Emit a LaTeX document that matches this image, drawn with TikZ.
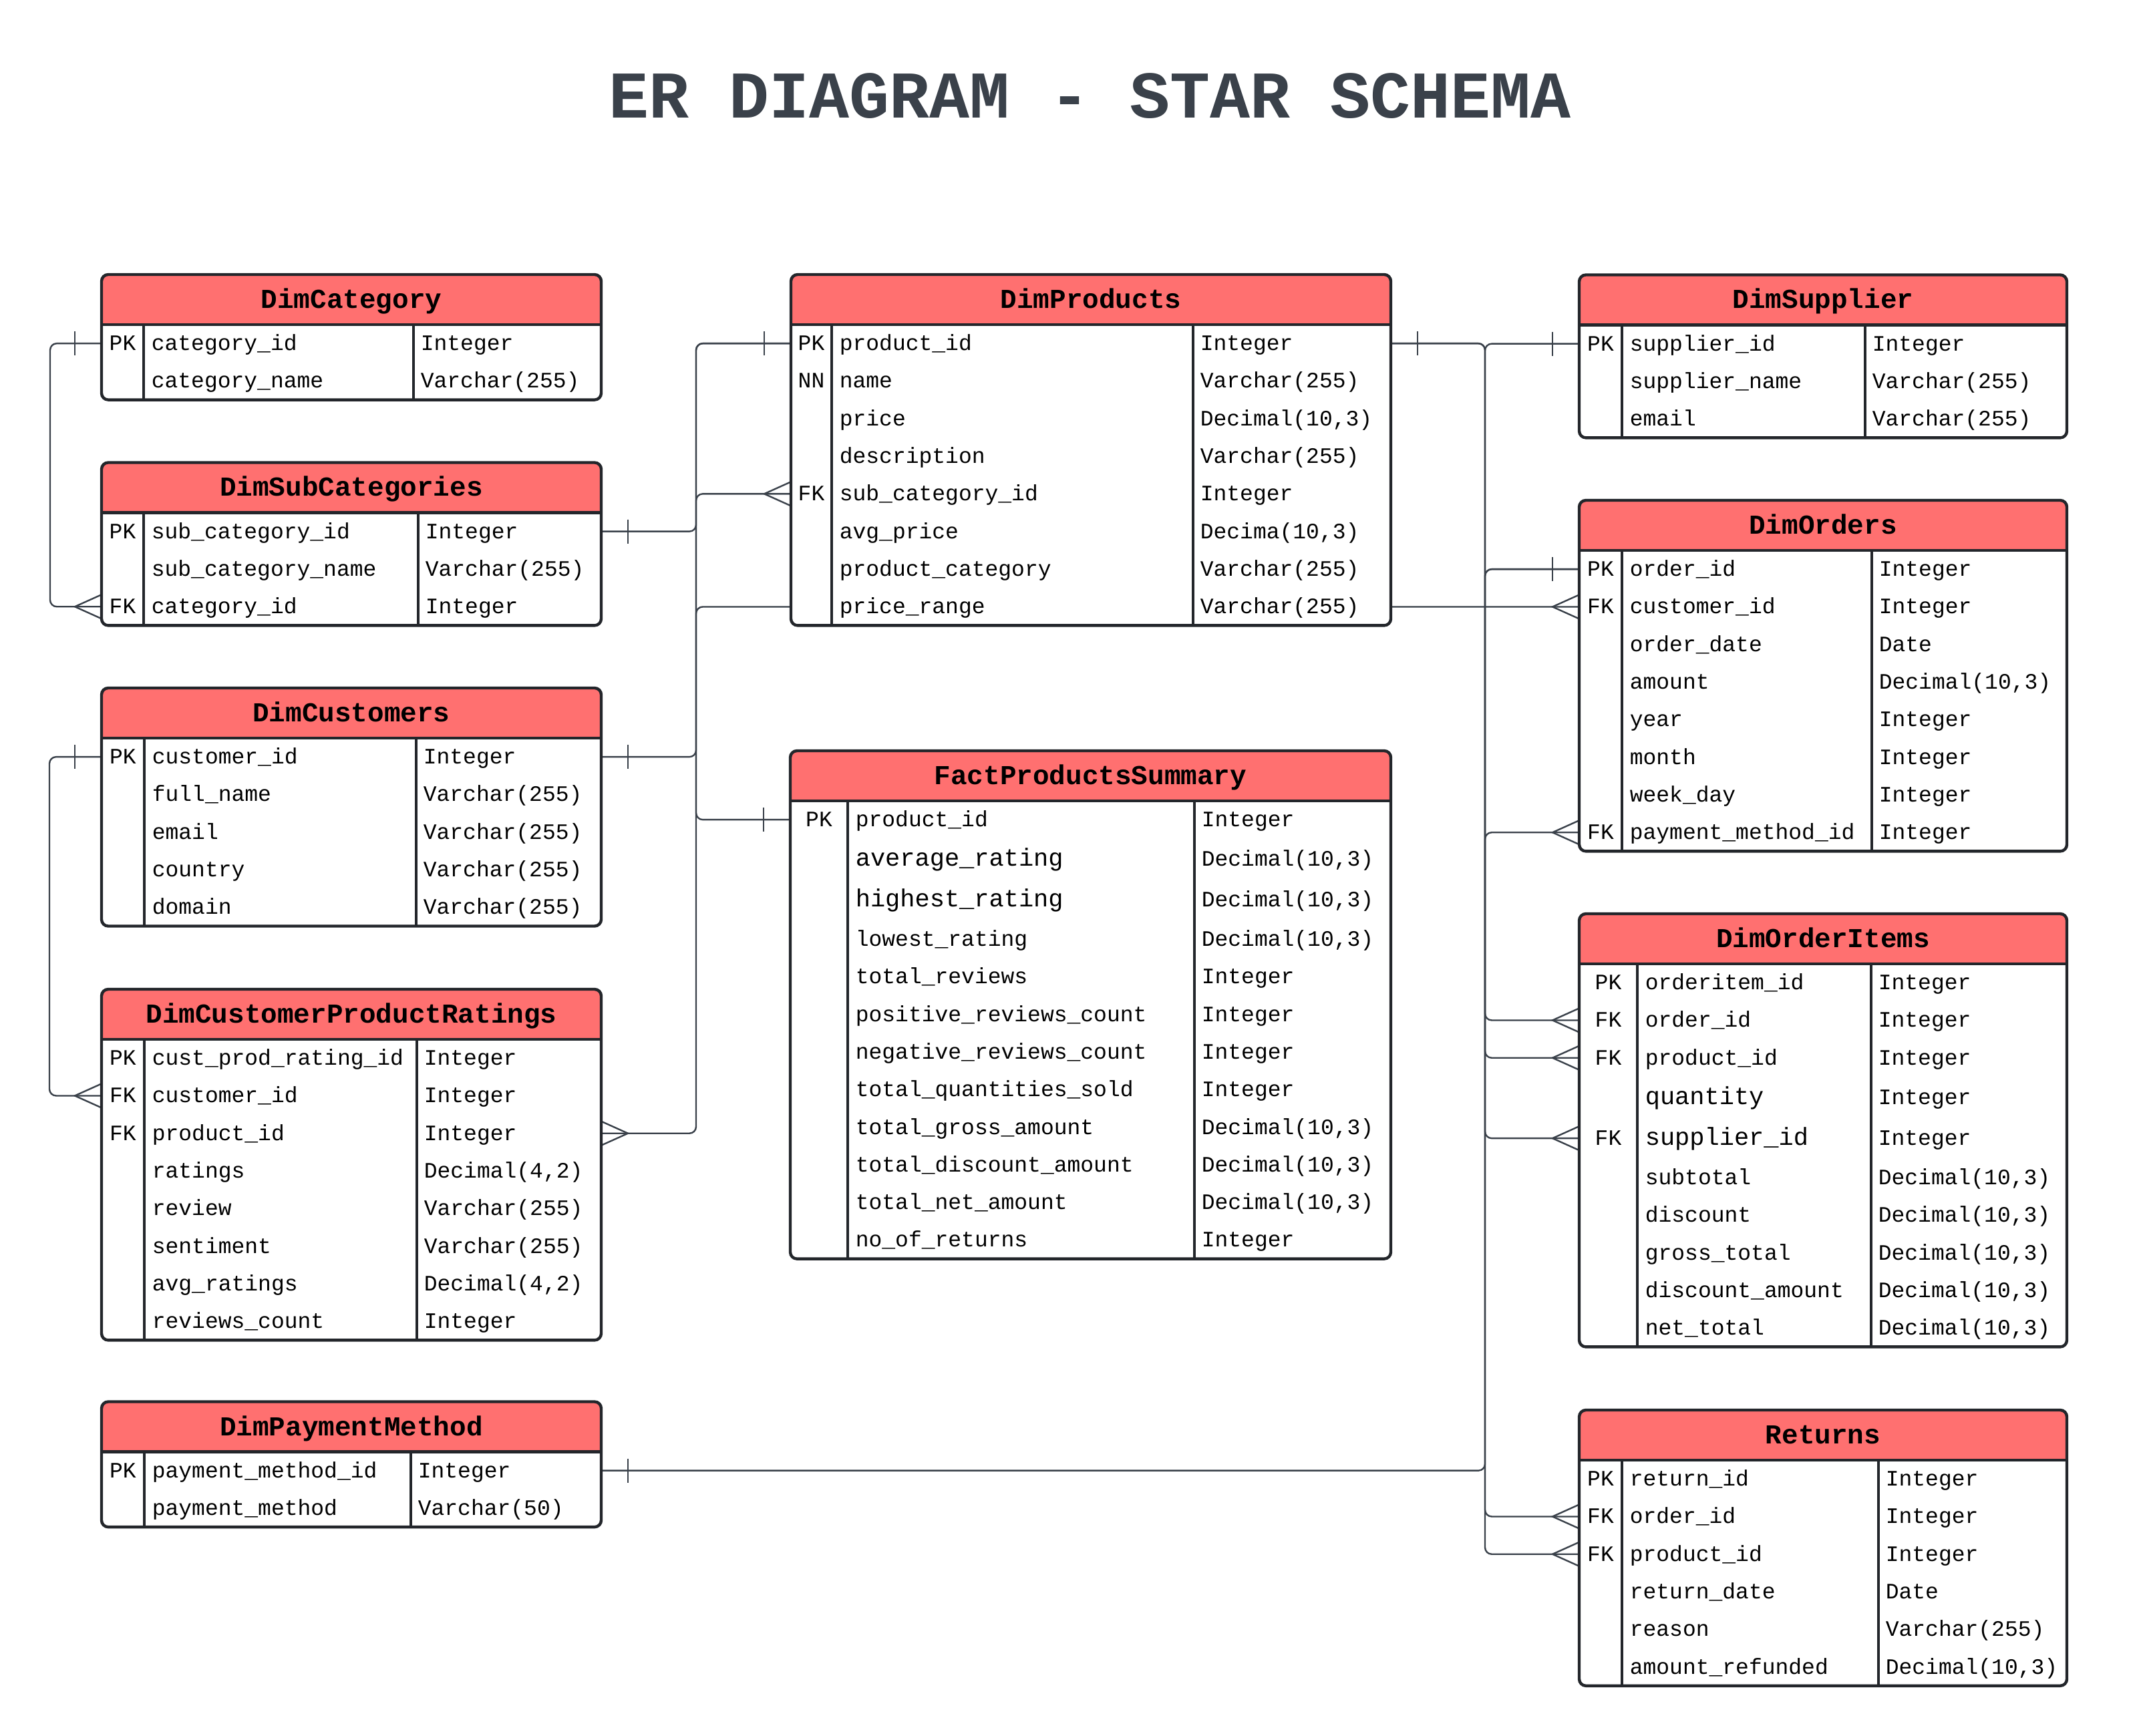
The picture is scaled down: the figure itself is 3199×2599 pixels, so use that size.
\documentclass[tikz,border=0pt]{standalone}
\usepackage{fontspec}
\setmonofont{Liberation Mono}
\newfontfamily\ermono{Liberation Mono}
\usetikzlibrary{calc,backgrounds}

\definecolor{hdrfill}{RGB}{255,112,112}
\definecolor{ink}{RGB}{58,65,74}
\definecolor{frame}{RGB}{35,38,43}

\newcommand\rowsize{\ermono\fontsize{8.25pt}{10pt}\selectfont}
\newcommand\bigfield{\fontsize{9.25pt}{11pt}\selectfont}
\newcommand\headsize{\ermono\bfseries\fontsize{10.25pt}{12pt}\selectfont}
\newcommand\titlesize{\ermono\bfseries\fontsize{25pt}{30pt}\selectfont}

\tikzset{
  conn/.style={draw=ink, line width=0.6pt, rounded corners=2.5pt},
  ermark/.style={draw=ink, line width=0.6pt},
  tblborder/.style={draw=frame, line width=1.1pt, rounded corners=2.5pt},
  divline/.style={draw=frame, line width=0.9pt},
  hdrline/.style={draw=frame, line width=1.1pt},
  celltext/.style={inner sep=0pt, font=\rowsize, text=black},
  headtext/.style={inner sep=0pt, font=\headsize, text=black, anchor=base},
}

% relationship end markers, 40 units away from the table edge
\newcommand\barW[1]{\draw[ermark, shift={(#1)}] (-40,-18) -- (-40,18);}
\newcommand\barE[1]{\draw[ermark, shift={(#1)}] (40,-18) -- (40,18);}
\newcommand\crowW[1]{\draw[ermark, shift={(#1)}] (0,-18) -- (-40,0) -- (0,18);}
\newcommand\crowE[1]{\draw[ermark, shift={(#1)}] (0,-18) -- (40,0) -- (0,18);}

% #1 id, #2 title, #3 left, #4 first divider, #5 second divider, #6 right,
% #7 top, #8 bottom, #9 rows key/name/type/row-centre
\newcommand\ertable[9]{%
  \fill[white, rounded corners=2.5pt] (#3,#7) rectangle (#6,#8);
  \fill[hdrfill, rounded corners=2.5pt] (#3,#7) rectangle (#6,#7+75);
  \fill[hdrfill] (#3,#7+30) rectangle (#6,#7+75);
  \draw[divline] (#4,#7+75) -- (#4,#8);
  \draw[divline] (#5,#7+75) -- (#5,#8);
  \draw[hdrline] (#3,#7+75) -- (#6,#7+75);
  \draw[tblborder] (#3,#7) rectangle (#6,#8);
  \node[headtext] (#1-head) at ({(#3+#6)/2},#7+50.5) {#2};
  \foreach \k/\n/\t/\yc [count=\i] in {#9} {
    \coordinate (#1-\i-w) at (#3,\yc);
    \coordinate (#1-\i-e) at (#6,\yc);
    \node[celltext, anchor=base] (#1-\i-key) at ({(#3+#4)/2},\yc+10.5) {\k};
    \node[celltext, anchor=base west] (#1-\i-name) at (#4+11,\yc+10.5) {\n};
    \node[celltext, anchor=base west] (#1-\i-type) at (#5+10,\yc+10.5) {\t};
  }
}

\begin{document}
\begin{tikzpicture}[x=0.25pt, y=-0.25pt]
\useasboundingbox (0,0) rectangle (3199,2599);

\node[inner sep=0pt, font=\titlesize, text=ink, anchor=base] (title) at (1632,177)
  {ER DIAGRAM - STAR SCHEMA};

% ---------------- tables ----------------
\ertable{cat}{DimCategory}{152}{215}{619}{900}{411}{598.6}{
  PK/category\_id/Integer/514.15,
  /category\_name/{Varchar(255)}/570.45}

\ertable{sub}{DimSubCategories}{152}{215}{626}{900}{692.5}{936.4}{
  PK/sub\_category\_id/Integer/795.65,
  /sub\_category\_name/{Varchar(255)}/851.95,
  FK/category\_id/Integer/908.25}

\ertable{cust}{DimCustomers}{152}{216}{623}{900}{1030}{1386.5}{
  PK/customer\_id/Integer/1133.15,
  /full\_name/{Varchar(255)}/1189.45,
  /email/{Varchar(255)}/1245.75,
  /country/{Varchar(255)}/1302.05,
  /domain/{Varchar(255)}/1358.35}

\ertable{rat}{DimCustomerProductRatings}{152}{216}{624}{900}{1481}{2006.4}{
  PK/cust\_prod\_rating\_id/Integer/1584.15,
  FK/customer\_id/Integer/1640.45,
  FK/product\_id/Integer/1696.75,
  /ratings/{Decimal(4,2)}/1753.05,
  /review/{Varchar(255)}/1809.35,
  /sentiment/{Varchar(255)}/1865.65,
  /avg\_ratings/{Decimal(4,2)}/1921.95,
  /reviews\_count/Integer/1978.25}

\ertable{pay}{DimPaymentMethod}{152}{216}{615}{900}{2098.5}{2286.1}{
  PK/payment\_method\_id/Integer/2201.65,
  /payment\_method/{Varchar(50)}/2257.95}

\ertable{prod}{DimProducts}{1184}{1245}{1786}{2082}{411}{936.4}{
  PK/product\_id/Integer/514.15,
  NN/name/{Varchar(255)}/570.45,
  /price/{Decimal(10,3)}/626.75,
  /description/{Varchar(255)}/683.05,
  FK/sub\_category\_id/Integer/739.35,
  /avg\_price/{Decima(10,3)}/795.65,
  /product\_category/{Varchar(255)}/851.95,
  /price\_range/{Varchar(255)}/908.25}

\ertable{fact}{FactProductsSummary}{1183}{1269}{1788}{2082}{1124}{1884.6}{
  PK/product\_id/Integer/1227.15,
  /{\bigfield average\_rating}/{Decimal(10,3)}/1285.95,
  /{\bigfield highest\_rating}/{Decimal(10,3)}/1347.25,
  /lowest\_rating/{Decimal(10,3)}/1406.05,
  /total\_reviews/Integer/1462.35,
  /positive\_reviews\_count/Integer/1518.65,
  /negative\_reviews\_count/Integer/1574.95,
  /total\_quantities\_sold/Integer/1631.25,
  /total\_gross\_amount/{Decimal(10,3)}/1687.55,
  /total\_discount\_amount/{Decimal(10,3)}/1743.85,
  /total\_net\_amount/{Decimal(10,3)}/1800.15,
  /no\_of\_returns/Integer/1856.45}

\ertable{sup}{DimSupplier}{2364}{2428}{2792}{3094}{411.5}{655.4}{
  PK/supplier\_id/Integer/514.65,
  /supplier\_name/{Varchar(255)}/570.95,
  /email/{Varchar(255)}/627.25}

\ertable{ords}{DimOrders}{2364}{2428}{2802}{3094}{749}{1274.4}{
  PK/order\_id/Integer/852.15,
  FK/customer\_id/Integer/908.45,
  /order\_date/Date/964.75,
  /amount/{Decimal(10,3)}/1021.05,
  /year/Integer/1077.35,
  /month/Integer/1133.65,
  /week\_day/Integer/1189.95,
  FK/payment\_method\_id/Integer/1246.25}

\ertable{oi}{DimOrderItems}{2364}{2451}{2801}{3094}{1368}{2016.4}{
  PK/orderitem\_id/Integer/1471.15,
  FK/order\_id/Integer/1527.45,
  FK/product\_id/Integer/1583.75,
  /{\bigfield quantity}/Integer/1642.65,
  FK/{\bigfield supplier\_id}/Integer/1704.15,
  /subtotal/{Decimal(10,3)}/1763.05,
  /discount/{Decimal(10,3)}/1819.35,
  /gross\_total/{Decimal(10,3)}/1875.65,
  /discount\_amount/{Decimal(10,3)}/1931.95,
  /net\_total/{Decimal(10,3)}/1988.25}

\ertable{ret}{Returns}{2364}{2428}{2812}{3094}{2111}{2523.8}{
  PK/return\_id/Integer/2214.15,
  FK/order\_id/Integer/2270.45,
  FK/product\_id/Integer/2326.75,
  /return\_date/Date/2383.05,
  /reason/{Varchar(255)}/2439.35,
  /amount\_refunded/{Decimal(10,3)}/2495.65}

% ---------------- relationships (behind the tables) ----------------
\begin{scope}[on background layer]
  \fill[white] (0,0) rectangle (3199,2599);
  \coordinate (lbus) at (1042,0);
  \coordinate (rbus) at (2223,0);

  % category -> sub category
  \draw[conn] (cat-1-w) -- ++(-77,0) |- (sub-3-w);
  \barW{cat-1-w} \crowW{sub-3-w}
  % sub category -> products
  \draw[conn] (sub-1-e) -| (lbus |- prod-5-w) -- (prod-5-w);
  \barE{sub-1-e} \crowW{prod-5-w}
  % products -> fact summary and ratings
  \draw[conn] (prod-1-w) -| (lbus |- fact-1-w) -- (fact-1-w);
  \draw[conn] (prod-1-w) -| (lbus |- rat-3-e) -- (rat-3-e);
  \barW{prod-1-w} \barW{fact-1-w} \crowE{rat-3-e}
  % customers -> orders
  \draw[conn] (cust-1-e) -| (lbus |- ords-2-w) -- (ords-2-w);
  \barE{cust-1-e} \crowW{ords-2-w}
  % customers -> ratings
  \draw[conn] (cust-1-w) -- ++(-78,0) |- (rat-2-w);
  \barW{cust-1-w} \crowW{rat-2-w}
  % products -> order items and returns
  \draw[conn] (prod-1-e) -| (rbus |- oi-3-w) -- (oi-3-w);
  \draw[conn] (prod-1-e) -| (rbus |- ret-3-w) -- (ret-3-w);
  \barE{prod-1-e} \crowW{oi-3-w} \crowW{ret-3-w}
  % supplier -> order items
  \draw[conn] (sup-1-w) -| (rbus |- oi-5-w) -- (oi-5-w);
  \barW{sup-1-w} \crowW{oi-5-w}
  % orders -> order items and returns
  \draw[conn] (ords-1-w) -| (rbus |- oi-2-w) -- (oi-2-w);
  \draw[conn] (ords-1-w) -| (rbus |- ret-2-w) -- (ret-2-w);
  \barW{ords-1-w} \crowW{oi-2-w} \crowW{ret-2-w}
  % payment method -> orders
  \draw[conn] (pay-1-e) -| (rbus |- ords-8-w) -- (ords-8-w);
  \barE{pay-1-e} \crowW{ords-8-w}
\end{scope}
\end{tikzpicture}
\end{document}
